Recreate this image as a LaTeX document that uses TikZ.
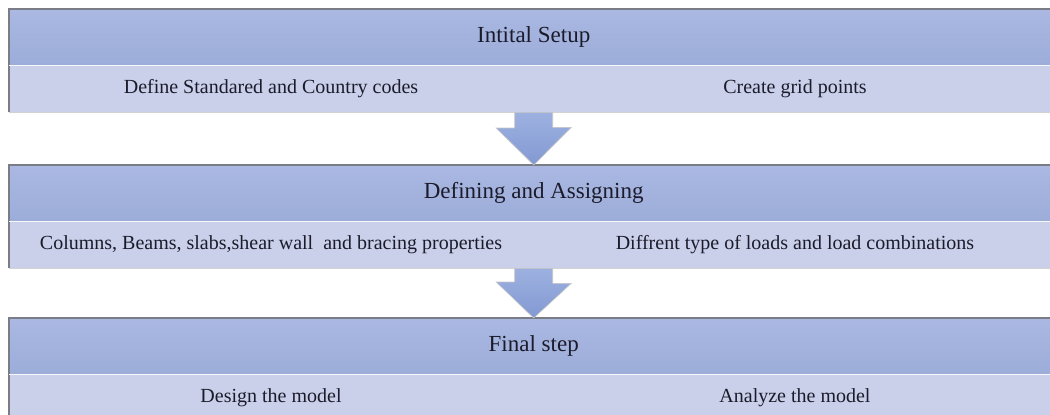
\documentclass[tikz,border=0pt]{standalone}
\usepackage{fontspec}
\setmainfont{Liberation Serif}
\usetikzlibrary{positioning,calc}

\definecolor{hdrtop}{HTML}{AAB8E2}
\definecolor{hdrbot}{HTML}{9CADD9}
\definecolor{subfill}{HTML}{CAD0EA}
\definecolor{arrtop}{HTML}{9DB1E0}
\definecolor{arrbot}{HTML}{8299D2}
\definecolor{edgegray}{HTML}{7A7D86}
\definecolor{txt}{HTML}{1B1B2B}

\tikzset{
	hdr/.style={anchor=north west, minimum width=1049pt, minimum height=56pt, inner sep=0pt,
		top color=hdrtop, bottom color=hdrbot, text=txt, font=\fontsize{23}{25}\selectfont},
	subcell/.style={minimum width=524pt, minimum height=47pt, inner sep=0pt, outer sep=0pt,
		fill=subfill, draw=subfill, line width=0.8pt, text=txt, font=\fontsize{20}{22}\selectfont},
	rim/.style={draw=edgegray, line width=1.2pt},
	flow/.style={top color=arrtop, bottom color=arrbot, draw=gray!45, line width=0.6pt},
}

\begin{document}
\begin{tikzpicture}[x=1pt,y=-1pt]
	\clip (0,0) rectangle (1050,415);
	\fill[white] (0,0) rectangle (1050,415);

	% BLOCKS
	\node[hdr] (setup) at (9,9) {Intital Setup};
	\node[subcell, below right=0pt of setup.south west] (codes) {Define Standared and Country codes};
	\node[subcell, right=0pt of codes] (grid) {Create grid points};

	\node[hdr] (defining) at (9,165) {Defining and Assigning};
	\node[subcell, below right=0pt of defining.south west] (props) {Columns, Beams, slabs,shear wall\ \ and bracing properties};
	\node[subcell, right=0pt of props] (loads) {Diffrent type of loads and load combinations};

	\node[hdr] (final) at (9,318) {Final step};
	\node[subcell, below right=0pt of final.south west] (design) {Design the model};
	\node[subcell, right=0pt of design] (analyze) {Analyze the model};

	% EDGES
	\draw[rim] (setup.north east) -- (setup.north west) -- (codes.south west);
	\draw[rim] (defining.north east) -- (defining.north west) -- (props.south west);
	\draw[rim] (final.north east) -- (final.north west) -- (design.south west);
	\draw[white!85!subfill, line width=0.8pt] (codes.north west) -- (grid.north east);
	\draw[white!85!subfill, line width=0.8pt] (props.north west) -- (loads.north east);
	\draw[white!85!subfill, line width=0.8pt] (design.north west) -- (analyze.north east);
	\draw[gray!35, line width=0.6pt] (codes.south west) -- (grid.south east);
	\draw[gray!35, line width=0.6pt] (props.south west) -- (loads.south east);

	% ARROWS
	\draw[flow] (defining.north) -- ++(-37.5,-37) -- ++(18.5,0)
		-- ($(codes.south -| setup.south)+(-19,0)$) -- ($(codes.south -| setup.south)+(19,0)$)
		-- ++(0,15) -- ++(18.5,0) -- cycle;
	\draw[flow] (final.north) -- ++(-37.5,-36) -- ++(18.5,0)
		-- ($(props.south -| defining.south)+(-19,0)$) -- ($(props.south -| defining.south)+(19,0)$)
		-- ++(0,15) -- ++(18.5,0) -- cycle;
\end{tikzpicture}
\end{document}
